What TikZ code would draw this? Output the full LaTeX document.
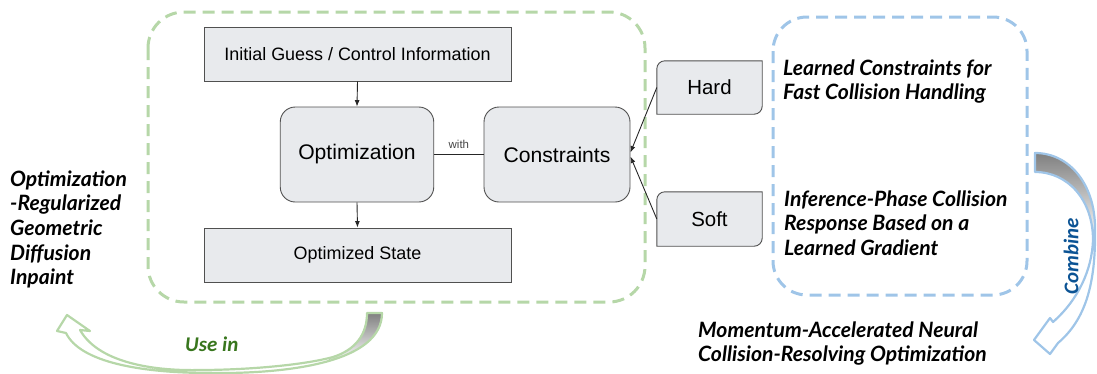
\documentclass[tikz,border=0pt]{standalone}
\usepackage{fontspec}
\setmainfont{Liberation Sans}
\newfontfamily\latofont{Lato}
\newfontfamily\carlfont{Carlito}
\usetikzlibrary{arrows.meta,calc}
\definecolor{boxfill}{HTML}{E8EAED}
\definecolor{boxline}{HTML}{505050}
\definecolor{lgreen}{HTML}{B6D7A8}
\definecolor{lblue}{HTML}{9FC5E8}
\definecolor{dgreen}{HTML}{38761D}
\definecolor{dblue}{HTML}{0B5394}
\definecolor{shade}{HTML}{CCCCCC}
\definecolor{withgray}{HTML}{444444}

\begin{document}
\begin{tikzpicture}[x=1bp,y=-1bp,
  box/.style={draw=boxline, fill=boxfill, line width=0.9bp, inner sep=0},
  tabbox/.style={inner sep=0, font=\fontsize{20.5}{22}\selectfont},
  tabline/.style={draw=boxline, fill=boxfill, line width=0.9bp},
  link/.style={line width=0.9bp, draw=black!85},
  linkarrow/.style={link, -{Latex[length=6.5bp,width=5bp]}},
  note/.style={anchor=north west, inner sep=0, align=left,
    font=\latofont\bfseries\itshape\fontsize{21.2}{24.8}\selectfont},
  verb/.style={font=\carlfont\bfseries\itshape\fontsize{21}{24}\selectfont},
  bandG/.style={draw=lgreen, line width=2.2bp, line join=round},
  bandB/.style={draw=lblue, line width=2.2bp, line join=round},
]
\useasboundingbox (0,0) rectangle (1097,373);

% dashed group frames
\draw[lgreen, line width=3bp, dash pattern=on 12bp off 7bp, rounded corners=36bp]
  (148,12) rectangle (645,302);
\draw[lblue, line width=3bp, dash pattern=on 12bp off 7bp, rounded corners=34bp]
  (773,17) rectangle (1027,295);

% optimisation block
\node[box, minimum width=307bp, minimum height=54bp,
  font=\fontsize{18}{20}\selectfont] (init) at (357.5,54) {Initial Guess / Control Information};
\node[box, rounded corners=15bp, minimum width=153.5bp, minimum height=95bp,
  font=\fontsize{21.2}{24}\selectfont] (opt) at (357,154.5) {Optimization};
\node[box, rounded corners=15bp, minimum width=146bp, minimum height=95bp,
  font=\fontsize{21.2}{24}\selectfont] (cons) at (557,154.5) {Constraints};
\node[box, minimum width=307bp, minimum height=54bp,
  font=\fontsize{18}{20}\selectfont] (state) at (357.5,255) {Optimized State};

% constraint kinds: tabs with two rounded corners
\node[tabbox, minimum width=105bp, minimum height=53bp] (hard) at (709.5,87.5) {};
\node[tabbox, minimum width=105bp, minimum height=54bp] (soft) at (709.5,219) {};
\foreach \t in {hard,soft}{
  \path[tabline] ($(\t.north west)+(0,8)$) .. controls +(0,-4.4) and +(-4.4,0) .. ($(\t.north west)+(8,0)$)
    -- (\t.north east) -- ($(\t.south east)+(0,-8)$) .. controls +(0,4.4) and +(4.4,0) .. ($(\t.south east)+(-8,0)$)
    -- (\t.south west) -- cycle;
}
\node[tabbox] at (hard) {Hard};
\node[tabbox] at (soft) {Soft};

% connectors
\draw[linkarrow] (init.south) -- (opt.north);
\draw[linkarrow] (opt.south) -- (state.north);
\draw[link] (opt.east) -- node[anchor=base, yshift=6bp, inner sep=0, text=withgray,
  font=\fontsize{11.5}{12}\selectfont] (withlbl) {with} (cons.east -| cons.west);
\draw[linkarrow] (hard.west) -- ($(cons.east)+(0,-2)$);
\draw[linkarrow] (soft.west) -- ($(cons.east)+(0,2)$);

% annotations
\node[note] (leftnote) at (10,168.6)
  {\strut Optimization\\-Regularized\\Geometric\\Diffusion\\Inpaint};
\node[note] (hardnote) at (783,57.6)
  {\strut Learned Constraints for\\Fast Collision Handling};
\node[note] (softnote) at (784,188.6)
  {\strut Inference-Phase Collision\\Response Based on a\\Learned Gradient};
\node[note, font=\latofont\bfseries\itshape\fontsize{21.2}{24}\selectfont] (mainnote) at (698,321)
  {\strut Momentum-Accelerated Neural\\Collision-Resolving Optimization};

% curved "use in" arrow: twisted ribbon, back face shaded near the tail
\def\greenband{(367,313) .. controls (367,335) and (355,350) .. (333,357)
  .. controls (300,366) and (240,370) .. (200,370)
  .. controls (160,371) and (100,365) .. (80,330)
  -- (90,331) -- (67,315) -- (57,331) -- (66,333)
  .. controls (80,362) and (140,373) .. (210,373)
  .. controls (290,374) and (382,362) .. (382,313) -- cycle}
\fill[white] \greenband;
\fill[shade] (367,313) .. controls (367,335) and (355,350) .. (333,357)
  -- (326,362) .. controls (360,352) and (381,338) .. (382,313) -- cycle;
\draw[bandG] \greenband;
\node[verb, text=dgreen, anchor=base west, inner sep=0] (usein) at (185,351) {Use in};

% curved "combine" arrow
\def\blueband{(1035,153) .. controls (1070,153) and (1095,185) .. (1095,228)
  .. controls (1096,285) and (1085,320) .. (1058,343)
  -- (1050,354) -- (1034,340) -- (1050,318) -- (1053,322)
  .. controls (1078,300) and (1092,270) .. (1093,240)
  .. controls (1093,200) and (1068,172) .. (1035,172) -- cycle}
\fill[white] \blueband;
\fill[shade] (1035,153) .. controls (1070,153) and (1095,185) .. (1095,228)
  -- (1093,240) .. controls (1093,200) and (1068,172) .. (1035,172) -- cycle;
\draw[bandB] \blueband;
\node[verb, text=dblue, rotate=90, inner sep=0] (combine) at (1071,256) {Combine};
\end{tikzpicture}
\end{document}
